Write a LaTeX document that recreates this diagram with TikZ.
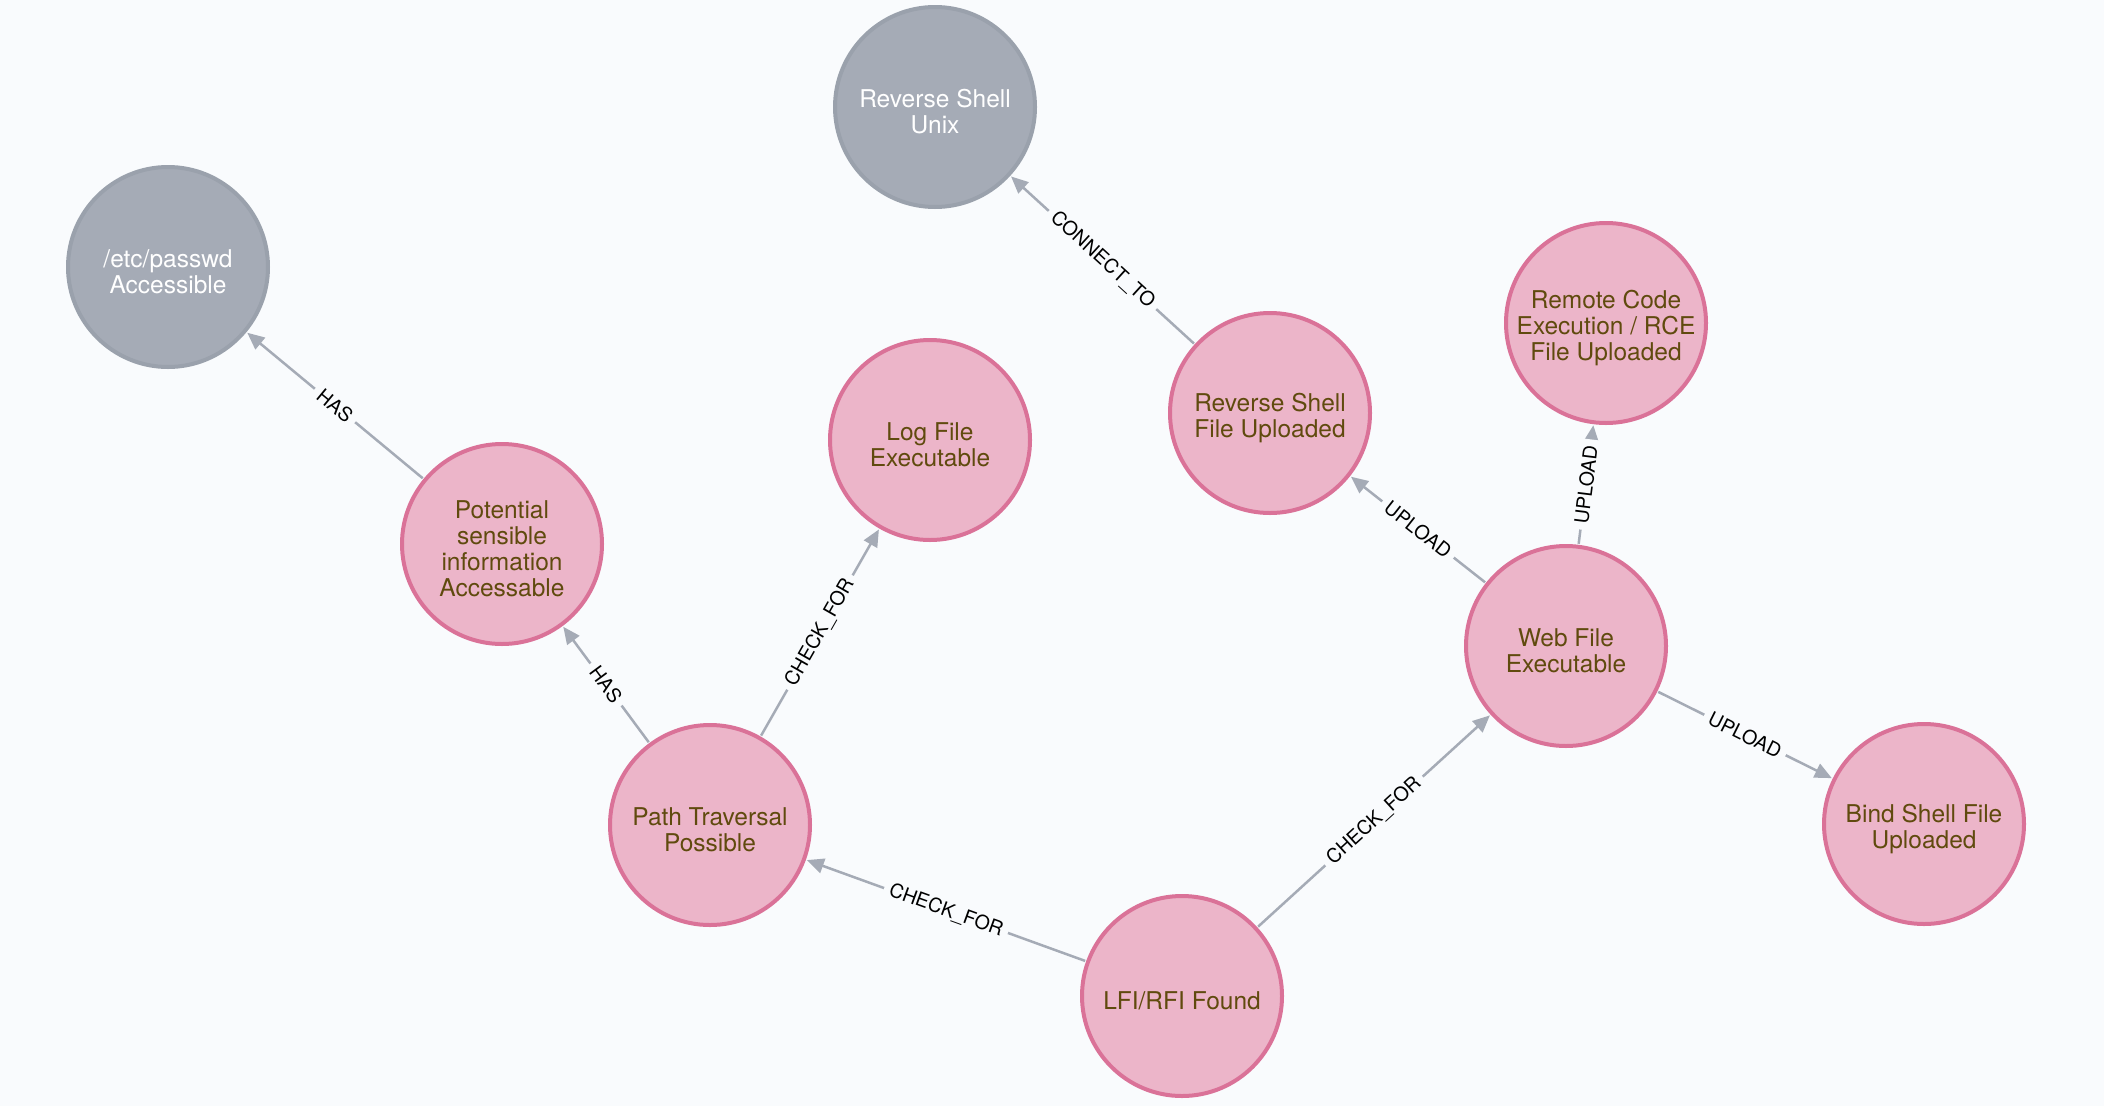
\documentclass[tikz,border=0pt]{standalone}
\usepackage{fontspec}
\setmainfont{TeX Gyre Heros}
\usetikzlibrary{arrows.meta}
\definecolor{bg}{HTML}{F9FBFD}
\definecolor{greyfill}{HTML}{A5ABB6}
\definecolor{greyline}{HTML}{9AA1AC}
\definecolor{pinkfill}{HTML}{ECB5C9}
\definecolor{pinkline}{HTML}{DA7298}
\definecolor{browntext}{HTML}{604A0E}
\definecolor{edgecol}{HTML}{A5ABB6}
\tikzset{
  base/.style={circle, minimum size=200pt, line width=4pt, inner sep=0pt},
  ntext/.style={align=center, inner sep=0pt, yshift=-5pt, font=\fontsize{24.5pt}{26pt}\selectfont},
  greynode/.style={base, fill=greyfill, draw=greyline, label={[ntext, text=white]center:{#1}}},
  pinknode/.style={base, fill=pinkfill, draw=pinkline, label={[ntext, text=browntext]center:{#1}}},
  rel/.style={draw=edgecol, line width=2.5pt, -{Triangle[length=17pt,width=15pt]}, shorten >=1pt, shorten <=1pt},
  lab/.style={sloped, fill=bg, inner sep=6pt, text=black, font=\fontsize{19.5pt}{21pt}\selectfont}
}
\begin{document}
\begin{tikzpicture}[x=1pt,y=-1pt]
\fill[bg] (0,0) rectangle (2104,1106);
\useasboundingbox (0,0) rectangle (2104,1106);
\node[greynode={Reverse Shell\\Unix}] (rsu) at (935,107) {};
\node[greynode={/etc/passwd\\Accessible}] (pwd) at (168,267) {};
\node[pinknode={Potential\\sensible\\information\\Accessable}] (pot) at (502,544) {};
\node[pinknode={Log File\\Executable}] (log) at (930,440) {};
\node[pinknode={Reverse Shell\\File Uploaded}] (rsf) at (1270,413) {};
\node[pinknode={Remote Code\\Execution / RCE\\File Uploaded}] (rce) at (1606,323) {};
\node[pinknode={Web File\\Executable}] (web) at (1566,646) {};
\node[pinknode={Bind Shell File\\Uploaded}] (bind) at (1924,824) {};
\node[pinknode={Path Traversal\\Possible}] (path) at (710,825) {};
\node[pinknode={LFI/RFI Found}] (lfi) at (1182,996) {};

\draw[rel] (pot) -- node[lab] {HAS} (pwd);
\draw[rel] (path) -- node[lab] {HAS} (pot);
\draw[rel] (path) -- node[lab] {CHECK\_FOR} (log);
\draw[rel] (lfi) -- node[lab] {CHECK\_FOR} (path);
\draw[rel] (lfi) -- node[lab] {CHECK\_FOR} (web);
\draw[rel] (web) -- node[lab] {UPLOAD} (rsf);
\draw[rel] (web) -- node[lab] {UPLOAD} (rce);
\draw[rel] (web) -- node[lab] {UPLOAD} (bind);
\draw[rel] (rsf) -- node[lab] {CONNECT\_TO} (rsu);
\end{tikzpicture}
\end{document}
